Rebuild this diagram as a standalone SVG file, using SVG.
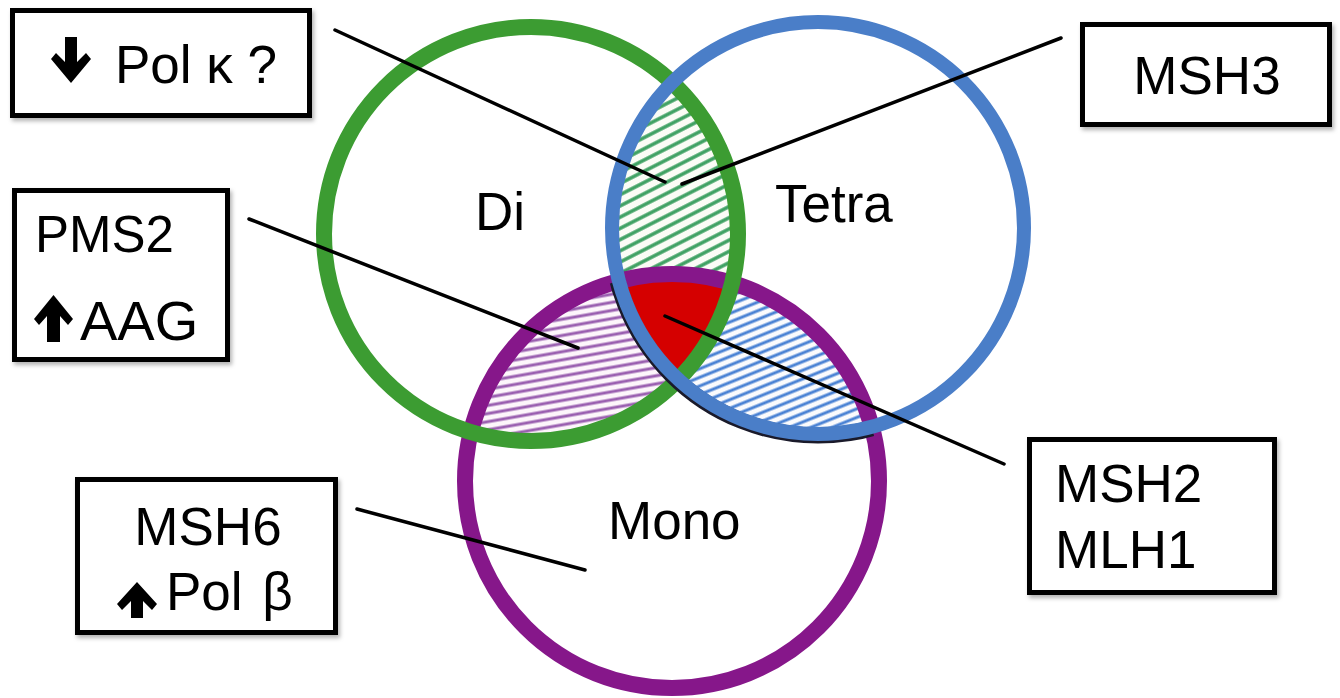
<svg xmlns="http://www.w3.org/2000/svg" width="1340" height="698" viewBox="0 0 1340 698">
<style>
.box{fill:#fff;stroke:#000;stroke-width:5;filter:url(#sh)}
.t{font-family:"Liberation Sans",Arial,sans-serif;font-size:53px;fill:#000}
.arr{fill:#000}
.conn line{stroke:#000;stroke-width:3.5;stroke-linecap:round}
.ring{fill:none}
</style>
<defs>
<filter id="sh" x="-10%" y="-10%" width="125%" height="130%">
<feDropShadow dx="2" dy="3" stdDeviation="2" flood-color="#000" flood-opacity="0.3"/>
</filter>
<clipPath id="cG"><circle cx="531" cy="234" r="207"/></clipPath>
<clipPath id="cB"><circle cx="818" cy="228" r="206"/></clipPath>
<clipPath id="cP"><circle cx="672" cy="481" r="207"/></clipPath>
<pattern id="pG" patternUnits="userSpaceOnUse" width="40" height="10" patternTransform="rotate(-27)">
<rect width="40" height="10" fill="#fbfcf6"/><line x1="0" y1="5" x2="40" y2="5" stroke="#3fa163" stroke-width="3.5"/>
</pattern>
<pattern id="pP" patternUnits="userSpaceOnUse" width="40" height="8" patternTransform="rotate(-10)">
<rect width="40" height="8" fill="#fdf6fb"/><line x1="0" y1="4" x2="40" y2="4" stroke="#9a5fb0" stroke-width="3"/>
</pattern>
<pattern id="pB" patternUnits="userSpaceOnUse" width="40" height="8" patternTransform="rotate(-22)">
<rect width="40" height="8" fill="#fbfbfd"/><line x1="0" y1="4" x2="40" y2="4" stroke="#4a82d4" stroke-width="3"/>
</pattern>
</defs>
<rect width="1340" height="698" fill="#fff"/>
<g id="venn">
<g id="hatch-di-tetra" clip-path="url(#cG)"><g clip-path="url(#cB)"><rect x="300" y="0" width="700" height="698" fill="url(#pG)"/></g></g>
<g id="hatch-di-mono" clip-path="url(#cG)"><g clip-path="url(#cP)"><rect x="300" y="0" width="700" height="698" fill="url(#pP)"/></g></g>
<g id="hatch-tetra-mono" clip-path="url(#cB)"><g clip-path="url(#cP)"><rect x="300" y="0" width="700" height="698" fill="url(#pB)"/></g></g>
<g id="core" clip-path="url(#cG)"><g clip-path="url(#cB)"><g clip-path="url(#cP)"><rect x="300" y="0" width="700" height="698" fill="#d50000"/></g></g></g>
<g id="mono"><circle class="ring" cx="672" cy="481" r="207" stroke="#86178a" stroke-width="16"/><text class="t" x="608" y="539">Mono</text></g>
<g id="di"><circle class="ring" cx="531" cy="234" r="207" stroke="#3c9c32" stroke-width="16"/><text class="t" x="475" y="230">Di</text></g>
<g id="tetra"><circle class="ring" cx="818" cy="228" r="207.5" stroke="#1a1a2a" stroke-width="16" clip-path="url(#cP)"/><circle class="ring" cx="818" cy="228" r="206" stroke="#4a7ec8" stroke-width="14"/><text class="t" x="775" y="222">Tetra</text></g>
</g>
<g id="connectors" class="conn">
<line x1="335" y1="30" x2="665" y2="182"/>
<line x1="1061" y1="38" x2="682" y2="184"/>
<line x1="249" y1="219" x2="578" y2="348"/>
<line x1="665" y1="316" x2="1004" y2="464"/>
<line x1="357" y1="509" x2="585" y2="570"/>
</g>
<g id="box-polk"><rect class="box" x="12.5" y="10.5" width="297" height="105"/>
<polygon class="arr" points="65,37 77,37 77,62 86,53 91,59 71,83 51,59 56,53 65,62"/>
<text class="t" x="115" y="83">Pol κ ?</text></g>
<g id="box-pms2"><rect class="box" x="14.5" y="190.5" width="213" height="169"/>
<text class="t" x="35" y="252" style="font-size:51px">PMS2</text>
<polygon class="arr" points="53.5,295 73,319 68,325 60,316 60,342 47,342 47,316 39,325 34,319"/>
<text class="t" x="80" y="340" style="font-size:56px">AAG</text></g>
<g id="box-msh6"><rect class="box" x="77.5" y="479.5" width="258" height="153"/>
<text class="t" x="208" y="545" text-anchor="middle">MSH6</text>
<polygon class="arr" points="137,582 157,604 152,610 143,601 143,618 131,618 131,601 122,610 117,604"/>
<text class="t" x="166" y="610" word-spacing="5">Pol β</text></g>
<g id="box-msh2"><rect class="box" x="1029.5" y="439.5" width="245" height="153"/>
<text class="t" x="1055" y="502">MSH2</text>
<text class="t" x="1055" y="568">MLH1</text></g>
<g id="box-msh3"><rect class="box" x="1082.5" y="24.5" width="247" height="100"/>
<text class="t" x="1207" y="94" text-anchor="middle">MSH3</text></g>
</svg>
